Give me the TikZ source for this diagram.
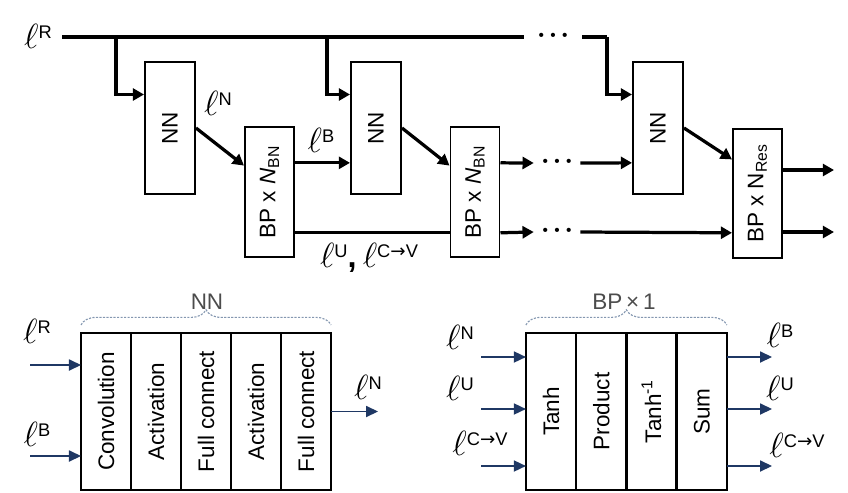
\documentclass[tikz,border=0pt]{standalone}
\usepackage{fontspec}
\setmainfont{Liberation Sans}
\newfontfamily\arrowfont{DejaVu Sans}
\usepackage{graphicx}
\usepackage{tikz}
\usetikzlibrary{arrows.meta,calc,positioning,decorations.pathreplacing}
\definecolor{navyline}{HTML}{1F3864}
\definecolor{bracegray}{HTML}{8497B0}
\newcommand{\lsup}[1]{{\fontsize{23}{24}\selectfont$\ell$}\raisebox{7pt}{\fontsize{13}{14}\selectfont #1}}
\newcommand{\cv}{C{\arrowfont →}V}
\newcommand{\threedots}{{\fontsize{11}{11}\selectfont\textbullet\hspace{4.5pt}\textbullet\hspace{4.5pt}\textbullet}}
\tikzset{
    every node/.style={font=\fontsize{16}{19}\selectfont},
    nnbox/.style={draw, line width=1.4pt, minimum width=1.25cm, minimum height=3.3cm, inner sep=0pt},
    bpbox/.style={draw, line width=1.4pt, minimum width=1.225cm, minimum height=3.25cm, inner sep=0pt},
    layer/.style={draw, line width=1.2pt, minimum width=1.25cm, minimum height=3.925cm, inner sep=0pt, outer sep=0pt},
    wire/.style={line width=2.3pt},
    flow/.style={line width=2.3pt, -{Triangle[length=0.28cm,width=0.3cm]}},
    feed/.style={navyline, line width=0.8pt, -{Triangle[length=0.3cm,width=0.28cm]}},
    dotsn/.style={minimum width=1.15cm, inner sep=0pt},
    grouplbl/.style={text=black!70, font=\fontsize{16}{18}\selectfont},
    groupbrace/.style={bracegray, dash pattern=on 1.5pt off 1pt, line width=0.8pt, decorate, decoration={brace, amplitude=0.38cm}}
}
\begin{document}
\begin{tikzpicture}[x=0.025cm, y=-0.025cm]
\useasboundingbox (0,0) rectangle (848,493);

\node[nnbox] (nn1) at (170,128) {\rotatebox{90}{NN}};
\node[nnbox] (nn2) at (376,128) {\rotatebox{90}{NN}};
\node[nnbox] (nn3) at (658,128) {\rotatebox{90}{NN}};
\node[bpbox] (bp1) at (269.5,192) {\rotatebox{90}{BP x \textit{N}\textsubscript{BN}}};
\node[bpbox] (bp2) at (475,192) {\rotatebox{90}{BP x \textit{N}\textsubscript{BN}}};
\node[bpbox, minimum height=3.225cm] (bp3) at (757.5,193.5) {\rotatebox{90}{BP x N\textsubscript{Res}}};

\node[dotsn, minimum width=1.45cm] (tdots) at (553,37) {\threedots};
\node[dotsn] (mdots) at (557,163) {\threedots};
\node[dotsn] (bdots) at (557,232) {\threedots};

\coordinate (rin) at (62,37);
\coordinate (s1) at (116,37);
\coordinate (s2) at (327,37);
\coordinate (rtop) at (607,37);
\draw[wire] (rin) -- (tdots.west);
\draw[wire] (tdots.east) -- (rtop);
\draw[flow] (s1) |- ($(nn1.north west)!.25!(nn1.south west)$);
\draw[flow] (s2) |- ($(nn2.north west)!.25!(nn2.south west)$);
\draw[flow] (rtop) |- ($(nn3.north west)!.25!(nn3.south west)$);

\draw[flow] (nn1.east) -- ($(bp1.north west)!.3!(bp1.south west)$);
\coordinate (m2) at ($(nn2.north west)!.76!(nn2.south west)$);
\draw[flow] (bp1.east |- m2) -- (m2);
\draw[flow] (nn2.east) -- ($(bp2.north west)!.3!(bp2.south west)$);
\coordinate (m3) at ($(nn3.north west)!.76!(nn3.south west)$);
\draw[flow] (bp2.east |- m3) -- (mdots.west);
\draw[flow] (mdots.east) -- (m3);
\draw[flow] (nn3.east) -- ($(bp3.north west)!.24!(bp3.south west)$);
\coordinate (b3) at ($(bp3.north west)!.8!(bp3.south west)$);
\draw[wire] (bp1.east |- b3) -- (bp2.west |- b3);
\draw[flow] (bp2.east |- b3) -- (bdots.west);
\draw[flow] (bdots.east) -- (b3);
\coordinate (o1) at (834,170);
\coordinate (o2) at (834,232);
\draw[flow] (bp3.east |- o1) -- (o1);
\draw[flow] (bp3.east |- o2) -- (o2);

\node (lR) at (38,36) {\lsup{R}};
\node (lN) at (218,103) {\lsup{N}};
\node (lB) at (321,140) {\lsup{B}};
\node (lUCV) at (369,258) {\lsup{U}{\fontsize{23}{24}\selectfont\textbf{,}} \lsup{\cv}};

\node[layer] (conv) at (106,411.5) {\rotatebox{90}{Convolution}};
\node[layer, right=0pt of conv] (act1) {\rotatebox{90}{Activation}};
\node[layer, right=0pt of act1] (fc1) {\rotatebox{90}{Full connect}};
\node[layer, right=0pt of fc1] (act2) {\rotatebox{90}{Activation}};
\node[layer, right=0pt of act2] (fc2) {\rotatebox{90}{Full connect}};
\draw[groupbrace] ([yshift=0.2cm]conv.north west) -- ([yshift=0.2cm]fc2.north east);
\node[grouplbl] (nnlbl) at (207,302) {NN};

\coordinate (xR) at (30,365);
\coordinate (xB) at (30,456);
\coordinate (yN) at (378,411.5);
\draw[feed] (xR) -- (conv.west |- xR);
\draw[feed] (xB) -- (conv.west |- xB);
\draw[feed] (fc2.east) -- (yN);
\node (lRb) at (37,331) {\lsup{R}};
\node (lBb) at (37,434) {\lsup{B}};
\node (lNb) at (368,387) {\lsup{N}};

\node[layer, minimum width=1.256cm] (tanh) at (551,411.5) {\rotatebox{90}{Tanh}};
\node[layer, minimum width=1.256cm, right=0pt of tanh] (prod) {\rotatebox{90}{Product}};
\node[layer, minimum width=1.256cm, right=0pt of prod] (atanh) {\rotatebox{90}{Tanh\textsuperscript{-1}}};
\node[layer, minimum width=1.256cm, right=0pt of atanh] (sumb) {\rotatebox{90}{Sum}};
\draw[line width=2.4pt] (atanh.north west) -- (atanh.south west) (atanh.north east) -- (atanh.south east);
\draw[groupbrace] ([yshift=0.2cm]tanh.north west) -- ([yshift=0.2cm]sumb.north east);
\node[grouplbl] (bplbl) at (624,302) {BP\,×\,1};

\coordinate (bin1) at (481,357);
\coordinate (bin2) at (481,409);
\coordinate (bin3) at (481,466);
\coordinate (bout1) at (772,357);
\coordinate (bout2) at (772,409);
\coordinate (bout3) at (772,466);
\draw[feed] (bin1) -- (tanh.west |- bin1);
\draw[feed] (bin2) -- (tanh.west |- bin2);
\draw[feed] (bin3) -- (tanh.west |- bin3);
\draw[feed] (sumb.east |- bout1) -- (bout1);
\draw[feed] (sumb.east |- bout2) -- (bout2);
\draw[feed] (sumb.east |- bout3) -- (bout3);
\node (lNi) at (460,337) {\lsup{N}};
\node (lUi) at (460,388) {\lsup{U}};
\node (lCi) at (480,443) {\lsup{\cv}};
\node (lBo) at (780,335) {\lsup{B}};
\node (lUo) at (780,388) {\lsup{U}};
\node (lCo) at (797,445) {\lsup{\cv}};
\end{tikzpicture}
\end{document}
